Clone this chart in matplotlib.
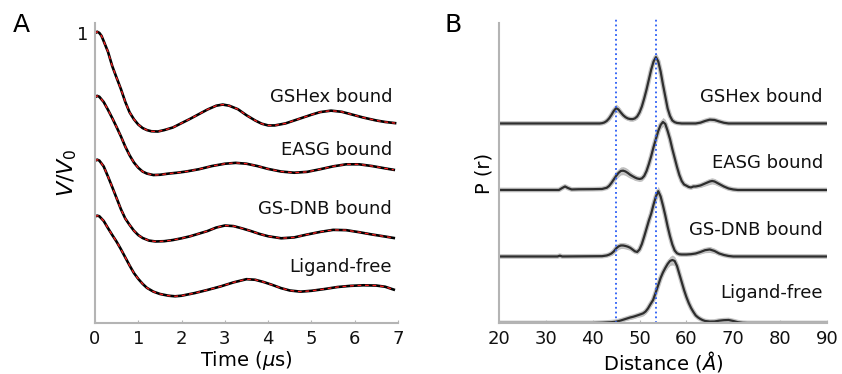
import numpy as np
import matplotlib
matplotlib.use("Agg")
import matplotlib.pyplot as plt

plt.rcParams['font.family'] = ['DejaVu Sans']
plt.rcParams['mathtext.fontset'] = 'dejavusans'

# ---- panel A: DEER time traces (V/V0, offset stacks) ----
names = ["GSHex bound", "EASG bound", "GS-DNB bound", "Ligand-free"]

t_gshex = [0.0, 0.05, 0.1, 0.15, 0.2, 0.3, 0.4, 0.5, 0.6, 0.7, 0.8, 0.9, 1.0, 1.1, 1.2, 1.3, 1.45,
           1.6, 1.8, 2.0, 2.2, 2.4, 2.6, 2.8, 2.95, 3.1, 3.3, 3.5, 3.7, 3.85, 4.0, 4.15, 4.4,
           4.7, 5.0, 5.2, 5.45, 5.7, 5.9, 6.2, 6.5, 6.7, 6.93]
v_gshex = [0.999, 1.004, 1.0, 0.99, 0.972, 0.935, 0.885, 0.845, 0.806, 0.762, 0.726, 0.702, 0.684,
           0.672, 0.665, 0.661, 0.66, 0.665, 0.674, 0.689, 0.704, 0.72, 0.736, 0.749, 0.753, 0.749,
           0.737, 0.716, 0.698, 0.687, 0.681, 0.681, 0.688, 0.703, 0.718, 0.727, 0.732, 0.728,
           0.72, 0.708, 0.698, 0.693, 0.689]

t_easg = [0.0, 0.05, 0.1, 0.2, 0.3, 0.4, 0.5, 0.6, 0.7, 0.8, 0.9, 1.0, 1.1, 1.2, 1.35, 1.5, 1.7,
          1.9, 2.1, 2.4, 2.7, 3.0, 3.25, 3.5, 3.75, 4.0, 4.3, 4.6, 4.9, 5.2, 5.5, 5.8, 6.1, 6.4,
          6.7, 6.9]
v_easg = [0.778, 0.783, 0.78, 0.762, 0.735, 0.706, 0.675, 0.643, 0.608, 0.578, 0.553, 0.535, 0.522,
          0.515, 0.51, 0.511, 0.515, 0.518, 0.522, 0.53, 0.541, 0.549, 0.552, 0.549, 0.541, 0.531,
          0.522, 0.518, 0.521, 0.53, 0.54, 0.547, 0.547, 0.541, 0.533, 0.528]

t_dnb = [0.0, 0.05, 0.1, 0.2, 0.3, 0.4, 0.5, 0.6, 0.7, 0.8, 0.9, 1.0, 1.1, 1.25, 1.4, 1.6, 1.8,
         2.0, 2.2, 2.4, 2.6, 2.8, 3.0, 3.2, 3.4, 3.6, 3.8, 4.0, 4.3, 4.6, 4.9, 5.2, 5.5, 5.8,
         6.1, 6.4, 6.7, 6.9]
v_dnb = [0.559, 0.563, 0.56, 0.54, 0.505, 0.468, 0.43, 0.392, 0.36, 0.338, 0.318, 0.303, 0.293,
         0.284, 0.281, 0.282, 0.286, 0.292, 0.299, 0.308, 0.317, 0.329, 0.336, 0.334, 0.326,
         0.317, 0.307, 0.299, 0.292, 0.295, 0.305, 0.314, 0.321, 0.32, 0.313, 0.305, 0.298, 0.293]

t_free = [0.0, 0.05, 0.1, 0.2, 0.3, 0.4, 0.5, 0.6, 0.7, 0.8, 0.9, 1.0, 1.1, 1.2, 1.35, 1.5, 1.7,
          1.85, 2.0, 2.3, 2.6, 2.9, 3.2, 3.5, 3.7, 3.9, 4.1, 4.3, 4.5, 4.75, 5.0, 5.3, 5.6, 5.9,
          6.2, 6.5, 6.7, 6.9]
v_free = [0.367, 0.37, 0.368, 0.352, 0.327, 0.303, 0.28, 0.254, 0.226, 0.198, 0.172, 0.152, 0.135,
          0.121, 0.108, 0.1, 0.094, 0.092, 0.094, 0.103, 0.114, 0.126, 0.14, 0.151, 0.149, 0.141,
          0.131, 0.12, 0.112, 0.108, 0.111, 0.117, 0.124, 0.128, 0.13, 0.129, 0.125, 0.115]

# ---- panel B: distance distributions P(r) with error bands ----
r_gshex = [20, 41.5, 42, 42.5, 43, 43.5, 44, 44.5, 45, 45.5, 46, 46.5, 47, 47.5, 48, 48.5, 49, 49.5,
           50, 50.5, 51, 51.5, 52, 52.5, 53, 53.5, 54, 54.5, 55, 55.5, 56, 56.5, 57, 57.5, 58, 59,
           62, 63, 64, 65, 66, 67, 68, 69, 90]
p_gshex = [0, 0, 0.3, 1, 2.5, 5, 8.5, 12.5, 15.3, 14, 11, 8.3, 6.3, 5, 4.4, 4.3, 5, 7,
           11, 17, 25, 34, 44, 54, 62, 66.3, 62, 52, 39, 27, 15, 7.5, 3, 1.3, 0.5, 0,
           0, 0.8, 2.5, 3.8, 3.5, 2, 0.7, 0, 0]
e_gshex = [0, 0, 0.3, 0.8, 1.5, 2.5, 3, 3.5, 4, 3.5, 3, 2.5, 2, 2, 2, 2, 2, 2.5,
           3, 3, 3, 3, 3, 3.5, 4, 5, 4, 3.5, 3, 3, 3, 2.5, 2, 1, 0.5, 0,
           0, 0.8, 1.5, 2, 2, 1.5, 0.7, 0, 0]

r_easg = [20, 32.8, 33.5, 34.1, 34.7, 35.5, 37, 40, 42, 43, 43.5, 44, 44.5, 45, 45.5, 46, 46.5, 47,
          47.5, 48, 48.5, 49, 49.5, 50, 50.5, 51, 51.5, 52, 52.5, 53, 53.5, 54, 54.5, 55, 55.5,
          56, 56.5, 57, 57.5, 58, 58.5, 59, 59.5, 60, 60.5, 61, 61.5, 62, 63, 64, 65, 65.5, 66,
          67, 68, 69, 70, 71, 90]
p_easg = [0, 0, 2, 3.5, 2, 0.5, 0.7, 0.8, 1, 2.2, 4, 7, 10.5, 14, 17, 19, 19.3, 18.5,
          17, 15.2, 13.8, 12.5, 11.5, 11, 11.5, 14, 19, 26, 34, 43, 51, 59, 65, 68, 66,
          59, 51, 41, 32, 23, 15, 9, 5.5, 4.3, 3, 2.5, 3.5, 3.5, 4.5, 6.5, 8.5, 9, 8.5,
          6, 3.5, 1.5, 0.5, 0, 0]
e_easg = [0, 0, 0.8, 1.2, 0.8, 0.3, 0.3, 0.3, 0.5, 1, 1.5, 2.5, 3, 3.5, 4, 4, 4, 4,
          4, 3.5, 3, 3, 2.5, 2.5, 2.5, 2.5, 3, 3, 3, 3, 3.5, 3.5, 4, 4.5, 4.5,
          4, 3.5, 3, 3, 3, 2.5, 2, 1.5, 1.5, 1.5, 1.5, 1.5, 1.5, 2, 2.5, 3, 3, 3,
          2.5, 2, 1, 0.5, 0, 0]

r_dnb = [20, 32.5, 33, 33.5, 42, 43, 43.5, 44, 44.5, 45, 45.5, 46, 46.5, 47, 47.5, 48, 48.5, 49,
         49.5, 50, 50.5, 51, 51.5, 52, 52.5, 53, 53.5, 54, 54.5, 55, 55.5, 56, 56.5, 57, 57.5,
         58, 58.5, 59, 60, 61, 62, 63, 64, 65, 66, 67, 68, 69, 70, 90]
p_dnb = [0, 0, 0.8, 0, 0.3, 1, 1.8, 3, 5, 8, 10, 11, 11, 10.5, 9.8, 8.7, 7, 5.2,
         4.5, 7, 12.5, 20, 28, 36, 43, 52, 60, 65.3, 60, 51, 41, 30, 20.3, 12, 6,
         3.2, 2.2, 2, 2, 2.3, 3, 4.5, 6.3, 7, 5.5, 3, 1.5, 0.5, 0, 0]
e_dnb = [0, 0, 0.3, 0, 0.3, 0.8, 1.2, 2, 2.5, 3, 3, 3, 3, 3, 3, 2.5, 2.5, 2,
         2, 2.5, 3, 3, 3, 3, 3, 3.5, 4, 5, 4, 3.5, 3, 3, 2.5, 2, 1.5,
         1.2, 1, 1, 1, 1.2, 1.5, 2, 2.5, 3, 2.5, 1.5, 1, 0.5, 0, 0]

r_free = [20, 40, 42, 44, 45, 46, 47, 48, 48.7, 49.5, 50.3, 50.8, 51.3, 51.8, 52.3, 52.9, 53.5, 54,
          54.5, 55, 55.5, 56, 56.5, 57, 57.5, 58, 58.5, 59, 59.5, 60, 60.5, 61, 61.5, 62, 62.5, 63,
          63.5, 64, 65, 66, 67, 68, 69, 70, 71, 72, 73, 90]
p_free = [0, 0, 0.3, 0.8, 1.3, 2.5, 4, 5.5, 6.3, 7.5, 8.8, 9.7, 11.5, 14.5, 18.5, 23, 31, 38,
          45, 50.5, 55, 59, 62, 63, 62, 57, 49, 41, 33, 26, 20, 15, 11, 7.5, 5.5, 4,
          2.8, 2, 1.4, 1.5, 2.3, 2.8, 3, 2, 0.8, 0.2, 0, 0]
e_free = [0, 0, 0.3, 0.5, 0.8, 1.2, 1.5, 2, 2, 2, 2.5, 2.5, 2.5, 2.5, 2.5, 3, 3, 3,
          3, 3, 3.5, 4, 4.5, 5, 4.5, 4, 3.5, 3.5, 3, 3, 3, 2.5, 2.5, 2, 2, 1.5,
          1.5, 1, 1, 1.2, 1.8, 2, 2.2, 1.5, 0.8, 0.2, 0, 0]

offsets_b = [3.0, 2.0, 1.0, 0.0]
peak_lines = [45.0, 53.5]

traces_a = [(t_gshex, v_gshex), (t_easg, v_easg), (t_dnb, v_dnb), (t_free, v_free)]
traces_b = [(r_gshex, p_gshex, e_gshex), (r_easg, p_easg, e_easg),
            (r_dnb, p_dnb, e_dnb), (r_free, p_free, e_free)]

spine_col = '#b4b4b4'
fig = plt.figure(figsize=(8.42, 3.74), dpi=100)
axA = fig.add_axes([0.1128, 0.1364, 0.36, 0.802])
axB = fig.add_axes([0.5926, 0.1364, 0.3895, 0.802])

for ax in (axA, axB):
    for s in ('top', 'right'):
        ax.spines[s].set_visible(False)
    for s in ('left', 'bottom'):
        ax.spines[s].set_color(spine_col)
        ax.spines[s].set_linewidth(1.5)
    ax.tick_params(axis='x', direction='in', length=2, width=0.8, color=spine_col,
                   labelsize=13, pad=5, labelcolor='#111111')

# panel A: black data with red dashed fit on top
for t, v in traces_a:
    axA.plot(t, v, color='black', lw=1.9, solid_joinstyle='round')
    axA.plot(t, v, color='#ff2020', lw=0.9, ls=(0, (3, 3)))
axA.set_xlim(0, 7)
axA.set_ylim(0, 1.034)
axA.set_xticks(range(0, 8))
axA.set_yticks([1])
axA.tick_params(axis='y', length=0, labelsize=13, pad=5, labelcolor='#111111')
axA.set_xlabel(r'Time ($\mu$s)', fontsize=14, labelpad=1)
axA.set_ylabel(r'$V$/$V_0$', fontsize=16, labelpad=-2)
for name, y in zip(names, [0.78, 0.597, 0.393, 0.193]):
    axA.text(0.98, y, name, transform=axA.get_yaxis_transform(), ha='right', va='center',
             fontsize=13, color='#111111')

# panel B: distributions with shaded uncertainty and a soft halo
scale = 66.5
for (r, p, e), off in zip(traces_b, offsets_b):
    p = np.array(p) / scale
    e = np.array(e) / scale
    axB.fill_between(r, off + p - e, off + p + e, color='#bdbdbd', lw=0)
    axB.plot(r, off + p, color='#c4c4c4', lw=3.4, solid_capstyle='butt')
    axB.plot(r, off + p, color='#2e2e2e', lw=1.6)
for x in peak_lines:
    axB.axvline(x, ymin=0, ymax=1.013, color='#2a5cf5', ls=':', lw=1.3, clip_on=False)
axB.set_xlim(20, 90)
axB.set_ylim(0, 4.51)
axB.set_xticks(range(20, 91, 10))
axB.set_yticks([])
axB.set_xlabel('Distance ($\\mathit{Å}$)', fontsize=14, labelpad=1)
axB.set_ylabel('P (r)', fontsize=14, labelpad=4)
for name, y in zip(names, [3.4, 2.41, 1.4, 0.45]):
    axB.text(0.988, y, name, transform=axB.get_yaxis_transform(), ha='right', va='center',
             fontsize=13, color='#111111')

fig.text(0.015, 0.915, 'A', fontsize=18)
fig.text(0.528, 0.915, 'B', fontsize=18)

fig.savefig('out.png', dpi=100)
